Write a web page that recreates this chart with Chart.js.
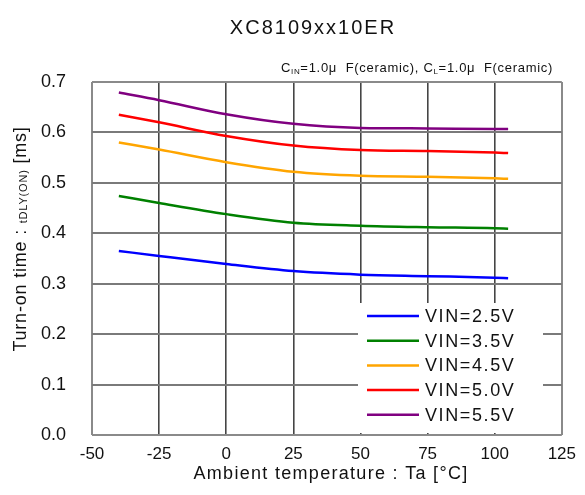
<!DOCTYPE html>
<html>
<head>
<meta charset="utf-8">
<script src="https://cdn.jsdelivr.net/npm/chart.js@4/dist/chart.umd.min.js"></script>
<style>
  html, body { margin: 0; padding: 0; background: #fff; }
  canvas { display: block; }
</style>
</head>
<body>
<canvas id="chart" width="585" height="495"></canvas>
<script>
// ---- data ----
const temps = [-40, -25, 0, 25, 50, 75, 100, 105];
const vin25 = [0.365, 0.355, 0.339, 0.325, 0.318, 0.315, 0.312, 0.311];
const vin35 = [0.474, 0.460, 0.438, 0.421, 0.415, 0.412, 0.410, 0.409];
const vin45 = [0.580, 0.566, 0.541, 0.522, 0.514, 0.512, 0.509, 0.508];
const vin50 = [0.635, 0.620, 0.593, 0.574, 0.565, 0.563, 0.560, 0.559];
const vin55 = [0.679, 0.664, 0.636, 0.617, 0.609, 0.608, 0.607, 0.607];

const seriesLabels = ["VIN=2.5V", "VIN=3.5V", "VIN=4.5V", "VIN=5.0V", "VIN=5.5V"];
const seriesColors = ["#0000ff", "#008000", "#ffa500", "#ff0000", "#800080"];
const seriesValues = [vin25, vin35, vin45, vin50, vin55];

const xTicks = [-50, -25, 0, 25, 50, 75, 100, 125];
const yTicks = [0.0, 0.1, 0.2, 0.3, 0.4, 0.5, 0.6, 0.7];

const FONT = "'Liberation Sans', Arial, sans-serif";

// ---- helpers ----
function drawRuns(ctx, x, y, runs) {
  // runs: [text, size, dy]
  let cx = x;
  runs.forEach(([t, size, dy]) => {
    ctx.font = `${size}px ${FONT}`;
    ctx.fillText(t, cx, y + dy);
    cx += ctx.measureText(t).width;
  });
}
function runsWidth(ctx, runs) {
  return runs.reduce((w, [t, size]) => {
    ctx.font = `${size}px ${FONT}`;
    return w + ctx.measureText(t).width;
  }, 0);
}

// ---- custom text + legend ----
const decor = {
  id: "decor",
  afterDraw(chart) {
    const ctx = chart.ctx;
    ctx.save();
    ctx.fillStyle = "#111";
    ctx.textBaseline = "alphabetic";

    // title
    ctx.font = `20px ${FONT}`;
    ctx.letterSpacing = "2px";
    ctx.textAlign = "center";
    ctx.fillText("XC8109xx10ER", 313, 34);
    ctx.letterSpacing = "0px";
    ctx.textAlign = "left";

    // capacitor note
    ctx.letterSpacing = "0.7px";
    const note = [["C", 13, 0], ["IN", 8, 2], ["=1.0μ  F(ceramic), C", 13, 0], ["L", 8, 2], ["=1.0μ  F(ceramic)", 13, 0]];
    drawRuns(ctx, 553 - runsWidth(ctx, note), 72, note);

    // y axis title
    ctx.letterSpacing = "0.8px";
    const yt = [["Turn-on time : ", 18, 0], ["tDLY(ON)", 11, 1], [" [ms]", 18, 0]];
    const yw = runsWidth(ctx, yt);
    ctx.save();
    ctx.translate(26, 239);
    ctx.rotate(-Math.PI / 2);
    drawRuns(ctx, -yw / 2, 0, yt);
    ctx.restore();

    // x axis title
    ctx.font = `18px ${FONT}`;
    ctx.textAlign = "center";
    ctx.letterSpacing = "1.3px";
    ctx.fillText("Ambient temperature : Ta [°C]", 331, 479);
    ctx.letterSpacing = "0px";

    // legend
    ctx.fillStyle = "#fff";
    ctx.fillRect(358, 303, 185, 130);
    ctx.textAlign = "left";
    ctx.textBaseline = "middle";
    ctx.font = `18px ${FONT}`;
    ctx.letterSpacing = "1.6px";
    chart.data.datasets.forEach((ds, i) => {
      const y = 316 + i * 24.7;
      ctx.strokeStyle = ds.borderColor;
      ctx.lineWidth = 2.5;
      ctx.beginPath();
      ctx.moveTo(367, y);
      ctx.lineTo(419, y);
      ctx.stroke();
      ctx.fillStyle = "#111";
      ctx.fillText(ds.label, 425, y + 1);
    });
    ctx.restore();
  }
};

const gridColor = (ctx, inner, edge) => (ctx.index === 0 || ctx.index === ctx.chart.scales[ctx.scale.id].ticks.length - 1) ? edge : inner;

new Chart(document.getElementById("chart").getContext("2d"), {
  type: "line",
  data: {
    datasets: seriesLabels.map((label, i) => ({
      label,
      data: temps.map((t, j) => ({ x: t, y: seriesValues[i][j] })),
      borderColor: seriesColors[i],
      backgroundColor: seriesColors[i],
      borderWidth: 2.5,
      pointRadius: 0,
      fill: false,
      cubicInterpolationMode: "monotone",
    }))
  },
  options: {
    responsive: false,
    animation: false,
    layout: { padding: { left: 0, top: 82, right: 19, bottom: 0 } },
    plugins: { legend: { display: false }, title: { display: false }, tooltip: { enabled: false } },
    scales: {
      x: {
        type: "linear",
        min: -50, max: 125,
        afterBuildTicks: (s) => { s.ticks = xTicks.map(v => ({ value: v })); },
        afterFit: (s) => { s.height = 60; },
        border: { display: false },
        grid: {
          drawTicks: false,
          color: (c) => gridColor(c, "#454545", "#8a8a8a"),
          lineWidth: (c) => gridColor(c, 1.6, 2),
        },
        ticks: {
          padding: 9,
          color: "#111",
          font: { family: FONT, size: 17 },
          callback: (v) => String(v),
        }
      },
      y: {
        type: "linear",
        min: 0, max: 0.7,
        afterBuildTicks: (s) => { s.ticks = yTicks.map(v => ({ value: v })); },
        afterFit: (s) => { s.width = 92; },
        border: { display: false },
        grid: {
          drawTicks: false,
          color: (c) => gridColor(c, "#7a7a7a", "#8a8a8a"),
          lineWidth: 2,
        },
        ticks: {
          padding: 26,
          color: "#111",
          font: { family: FONT, size: 18 },
          callback: (v) => v.toFixed(1),
        }
      }
    }
  },
  plugins: [decor]
});
</script>
</body>
</html>
